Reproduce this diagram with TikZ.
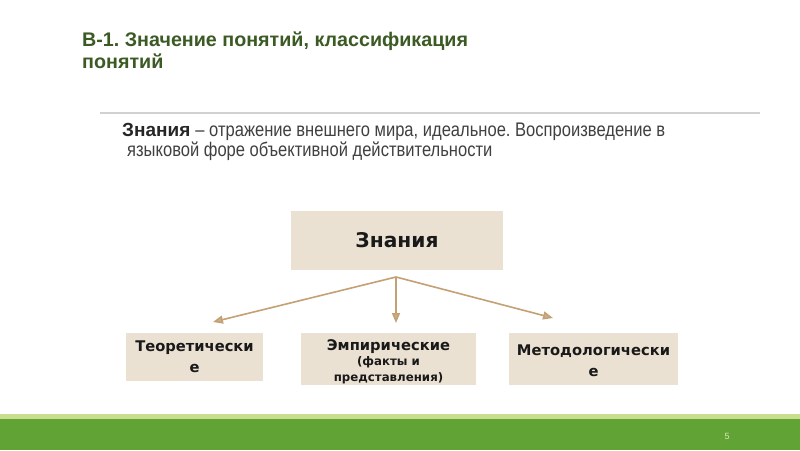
\documentclass[tikz,border=0pt]{standalone}
\usepackage{fontspec}
\setmainfont{Liberation Sans}
\newfontfamily\narrowfont[FakeStretch=0.84]{Liberation Sans}
\newfontfamily\boxfont{DejaVu Sans}
\usetikzlibrary{arrows.meta}
\frenchspacing
\definecolor{titlegreen}{HTML}{3B5A24}
\definecolor{boxfill}{HTML}{EBE1D3}
\definecolor{arrowtan}{HTML}{C4A173}
\definecolor{barGreen}{HTML}{62A336}
\definecolor{barLight}{HTML}{C8DE8E}
\definecolor{bodygray}{HTML}{404040}
\tikzset{
  catbox/.style={fill=boxfill, draw=none, inner sep=0pt, align=center, font=\boxfont\bfseries\fontsize{14.7}{21}\selectfont, text=black!90},
  cattext/.style={inner sep=0pt, align=center, font=\boxfont\bfseries\fontsize{14.7}{21}\selectfont, text=black!90},
  branch/.style={draw=arrowtan, line width=1.6pt, -{Triangle[length=10pt,width=8pt,fill=arrowtan!85]}},
}
\begin{document}
\begin{tikzpicture}[x=1pt,y=-1pt]
\useasboundingbox (0,0) rectangle (800,450);
\fill[white] (0,0) rectangle (800,450);
% title
\node[anchor=base west, inner sep=0pt, text=titlegreen, font=\bfseries\fontsize{19.7}{24}\selectfont] (t1) at (82,46.5) {В-1. Значение понятий, классификация};
\node[anchor=base west, inner sep=0pt, text=titlegreen, font=\bfseries\fontsize{19.7}{24}\selectfont] (t2) at (82,68) {понятий};
% rule
\draw[black!18, line width=2pt] (100,113) -- (760,113);
% definition
\node[anchor=base west, inner sep=0pt, text=black!85, font=\bfseries\fontsize{19}{22}\selectfont] (d1) at (122,136) {Знания};
\node[anchor=base west, inner sep=0pt, text=bodygray, font=\narrowfont\fontsize{19.7}{20}\selectfont] (d2) at (d1.base east) {\ – отражение внешнего мира, идеальное. Воспроизведение в};
\node[anchor=base west, inner sep=0pt, text=bodygray, font=\narrowfont\fontsize{19.7}{20}\selectfont] (d3) at (127,156) {языковой форе объективной действительности};
% top box
\node[catbox, minimum width=212pt, minimum height=59pt, font=\boxfont\bfseries\fontsize{20.2}{24}\selectfont] (top) at (397,240.5) {Знания};
% category boxes
\node[catbox, minimum width=137pt, minimum height=48pt] (theo) at (194.5,357) {Теоретически\\е};
\node[catbox, minimum width=175pt, minimum height=52pt] (empbox) at (388.5,359) {};
\node[cattext, font=\boxfont\bfseries\fontsize{14.7}{15.5}\selectfont] (emp) at ([yshift=-2.5pt]empbox.center) {Эмпирические\\{\fontsize{11.8}{15.5}\selectfont (факты и}\\{\fontsize{11.8}{15.5}\selectfont представления)}};
\node[catbox, minimum width=169pt, minimum height=52pt] (methbox) at (593.5,359) {};
\node[cattext] (meth) at ([yshift=-1.5pt]methbox.center) {Методологически\\е};
% arrows
\coordinate (src) at (396,277);
\coordinate (tl) at (213,322);
\coordinate (tm) at (396,323);
\coordinate (tr) at (553,318);
\draw[branch] (src) -- (tl);
\draw[branch] (src) -- (tm);
\draw[branch] (src) -- (tr);
% bottom bar
\fill[barLight] (0,414) rectangle (800,420);
\fill[barGreen] (0,419) rectangle (800,450);
\node[inner sep=0pt, text=barLight!70!white, font=\fontsize{9}{10}\selectfont] (pg) at (727,436) {5};
\end{tikzpicture}
\end{document}
